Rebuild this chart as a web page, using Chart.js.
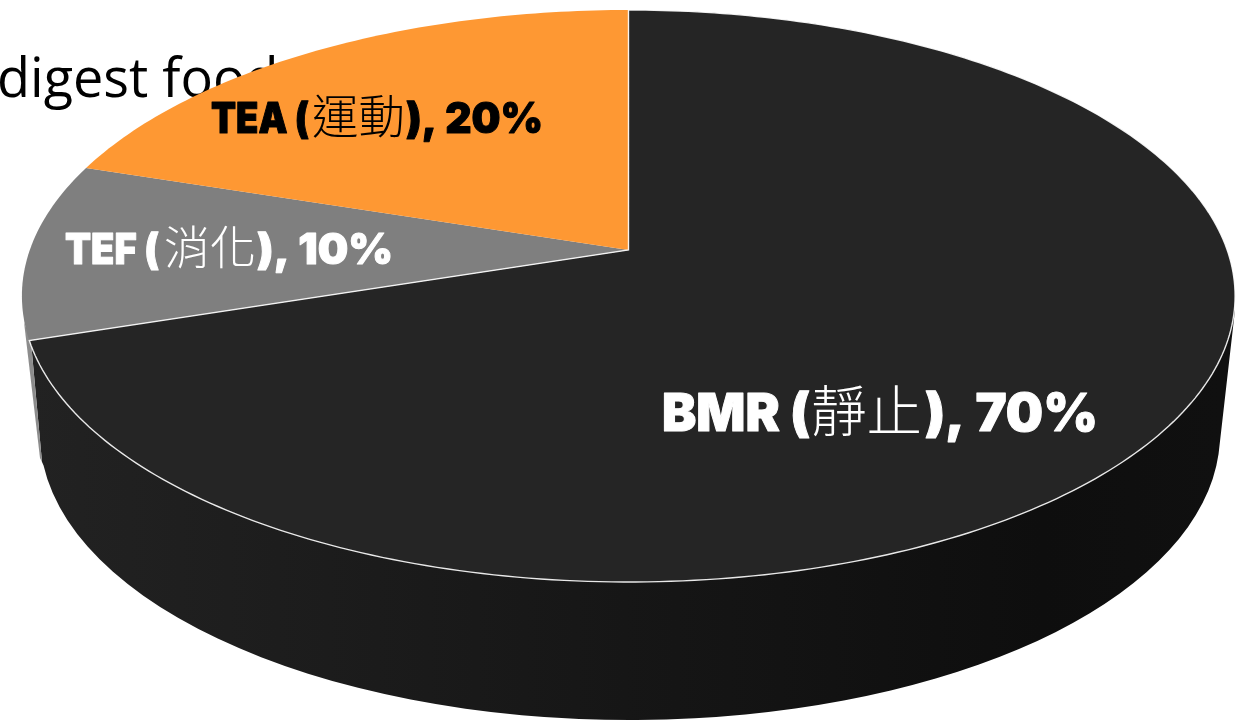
<!DOCTYPE html>
<html>
<head>
<meta charset="utf-8">
<title>Daily energy expenditure</title>
<script src="https://cdn.jsdelivr.net/npm/chart.js@4"></script>
<style>
  html, body { margin: 0; padding: 0; background: #fff; overflow: hidden; }
  #canvas { display: block; }
</style>
</head>
<body>
<canvas id="canvas" width="1247" height="721"></canvas>
<script>
const categories = ["BMR", "TEF", "TEA"];
const chineseNames = ["靜止", "消化", "運動"];
const shares = [70, 10, 20];
const sliceColors = ["#252525", "#7f7f7f", "#fe9833"];
const labelColors = ["#ffffff", "#ffffff", "#000000"];
const backgroundText = "digest food";

// label layout: baseline, font sizes and the left/right span of each text run
const labelBoxes = [
    { y: 431, size: 52, cjk: 55, spans: [[662, 810], [811, 922], [925, 1098]] },
    { y: 264, size: 42, cjk: 46, spans: [[65, 159], [164, 256], [257, 393]] },
    { y: 133, size: 42, cjk: 46, spans: [[211, 309], [312, 405], [406, 543]] }
];

// tilted disc: circle to screen, the hub sits above the middle of the ellipse
const hubX = 628.5, hubY = 250;
const tilt = -0.1608, depthY = 238.4, spanX = 598.7;

// lower rim of the disc
const rim = { x: 630, y: 434, rx: 590, ry: 286 };

function project(angle) {
    const u = Math.cos(angle), v = Math.sin(angle);
    const w = 1 + tilt * v;
    return { x: hubX + spanX * u / w, y: (hubY + depthY * v) / w };
}

function traceSlice(ctx, start, end) {
    const steps = Math.max(8, Math.ceil((end - start) * 60));
    ctx.beginPath();
    ctx.moveTo(hubX, hubY);
    for (let i = 0; i <= steps; i++) {
        const p = project(start + (end - start) * i / steps);
        ctx.lineTo(p.x, p.y);
    }
    ctx.closePath();
}

function drawWall(ctx) {
    const shade = ctx.createLinearGradient(30, 0, 1220, 0);
    shade.addColorStop(0, "#222222");
    shade.addColorStop(0.5, "#161616");
    shade.addColorStop(0.85, "#0e0e0e");
    shade.addColorStop(1, "#101010");

    ctx.fillStyle = shade;
    ctx.beginPath();
    ctx.moveTo(31, 342);
    ctx.lineTo(42, 462);
    ctx.ellipse(rim.x, rim.y, rim.rx, rim.ry, 0, Math.PI - 0.11, 0.07, true);
    ctx.lineTo(1235, 310);
    ctx.closePath();
    ctx.fill();

    // end of the grey slice showing at the far left
    ctx.fillStyle = "#8c8c8c";
    ctx.beginPath();
    ctx.moveTo(24, 322);
    ctx.lineTo(31, 342);
    ctx.lineTo(42, 462);
    ctx.lineTo(40, 458);
    ctx.closePath();
    ctx.fill();
}

function drawLabel(ctx, index) {
    const box = labelBoxes[index];
    const latinFont = `900 ${box.size}px Inter, "DejaVu Sans"`;
    const cjkFont = `300 ${box.cjk}px "Noto Sans CJK TC"`;
    const runs = [
        { text: categories[index] + " (", font: latinFont, heavy: true },
        { text: chineseNames[index], font: cjkFont, heavy: false },
        { text: "), " + shares[index] + "%", font: latinFont, heavy: true }
    ];

    ctx.fillStyle = labelColors[index];
    ctx.strokeStyle = labelColors[index];
    ctx.lineJoin = "round";
    ctx.textBaseline = "alphabetic";
    runs.forEach((run, r) => {
        const [left, right] = box.spans[r];
        ctx.font = run.font;
        ctx.save();
        ctx.translate(left, box.y);
        // squeeze or stretch each run into its span
        ctx.scale((right - left) / ctx.measureText(run.text).width, 1);
        ctx.fillText(run.text, 0, 0);
        if (run.heavy) {
            ctx.lineWidth = 1;
            ctx.strokeText(run.text, 0, 0);
        }
        ctx.restore();
    });
}

const tiltedPie = {
    id: "tiltedPie",
    beforeDraw(chart) {
        const ctx = chart.ctx;
        ctx.save();
        ctx.fillStyle = "#000000";
        ctx.font = '400 54px "Open Sans"';
        ctx.textBaseline = "alphabetic";
        ctx.fillText(backgroundText, -3, 97);
        ctx.restore();
    },
    beforeDatasetDraw(chart, args) {
        const ctx = chart.ctx;
        ctx.save();
        drawWall(ctx);
        args.meta.data.forEach(arc => {
            const { startAngle, endAngle } = arc.getProps(["startAngle", "endAngle"], true);
            traceSlice(ctx, startAngle, endAngle);
            ctx.fillStyle = arc.options.backgroundColor;
            ctx.fill();
        });
        // thin white outline only around the dark slice
        const first = args.meta.data[0];
        traceSlice(ctx, first.startAngle, first.endAngle);
        ctx.strokeStyle = "rgba(255,255,255,0.9)";
        ctx.lineWidth = 1.4;
        ctx.stroke();
        ctx.restore();
        return false;
    },
    afterDraw(chart) {
        categories.forEach((name, i) => drawLabel(chart.ctx, i));
    }
};

new Chart(document.getElementById("canvas").getContext("2d"), {
    type: "pie",
    data: {
        labels: categories,
        datasets: [{ data: shares, backgroundColor: sliceColors, borderWidth: 0 }]
    },
    options: {
        responsive: false,
        animation: false,
        plugins: { legend: { display: false }, tooltip: { enabled: false } }
    },
    plugins: [tiltedPie]
});
</script>
</body>
</html>
